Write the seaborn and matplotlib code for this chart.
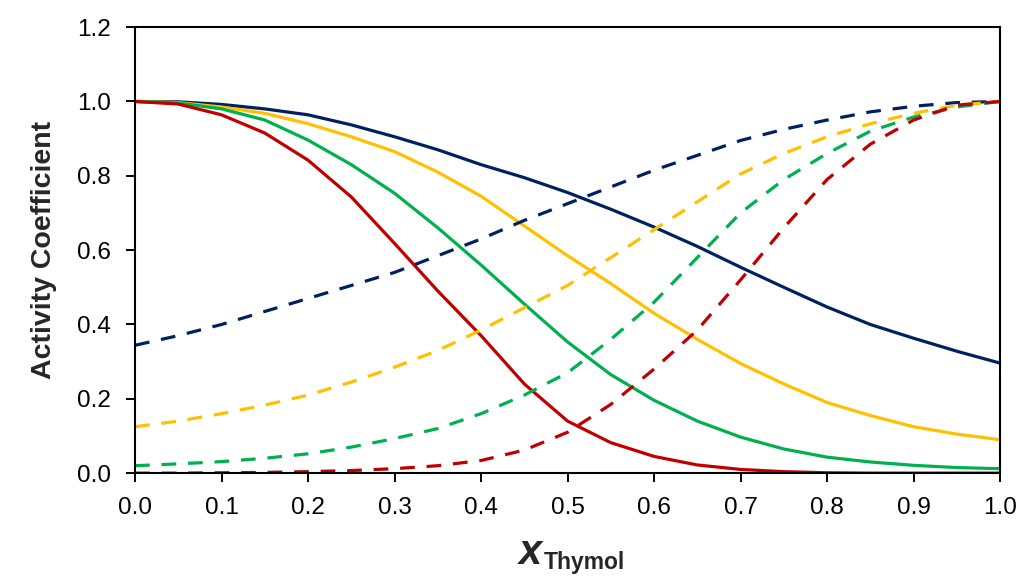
import numpy as np
import pandas as pd
import matplotlib
matplotlib.use("Agg")
import matplotlib.pyplot as plt
import seaborn as sns

x_thymol = [0.0, 0.05, 0.1, 0.15, 0.2, 0.25, 0.3, 0.35, 0.4, 0.45, 0.5,
            0.55, 0.6, 0.65, 0.7, 0.75, 0.8, 0.85, 0.9, 0.95, 1.0]

navy_solid = [1.0, 0.999, 0.992, 0.98, 0.964, 0.937, 0.905, 0.87, 0.83, 0.795, 0.755,
              0.71, 0.662, 0.61, 0.554, 0.50, 0.447, 0.40, 0.363, 0.328, 0.296]
navy_dash = [0.344, 0.37, 0.40, 0.435, 0.47, 0.505, 0.54, 0.585, 0.63, 0.68, 0.725,
             0.77, 0.815, 0.855, 0.895, 0.925, 0.95, 0.972, 0.987, 0.997, 1.0]
gold_solid = [1.0, 0.997, 0.985, 0.968, 0.94, 0.905, 0.865, 0.81, 0.745, 0.665, 0.585,
              0.51, 0.43, 0.36, 0.295, 0.24, 0.19, 0.155, 0.125, 0.105, 0.09]
gold_dash = [0.125, 0.14, 0.16, 0.183, 0.21, 0.245, 0.285, 0.33, 0.385, 0.445, 0.505,
             0.58, 0.655, 0.73, 0.805, 0.86, 0.905, 0.94, 0.968, 0.99, 1.0]
green_solid = [1.0, 0.996, 0.98, 0.95, 0.896, 0.83, 0.753, 0.66, 0.56, 0.455, 0.353,
               0.265, 0.196, 0.14, 0.097, 0.065, 0.043, 0.03, 0.021, 0.015, 0.012]
green_dash = [0.02, 0.025, 0.031, 0.04, 0.052, 0.07, 0.093, 0.12, 0.16, 0.21, 0.27,
              0.36, 0.46, 0.58, 0.70, 0.79, 0.86, 0.92, 0.958, 0.985, 1.0]
red_solid = [1.0, 0.993, 0.964, 0.915, 0.842, 0.743, 0.618, 0.49, 0.37, 0.24, 0.14,
             0.082, 0.045, 0.022, 0.01, 0.004, 0.001, 0.0, 0.0, 0.0, 0.0]
red_dash = [0.0, 0.0, 0.001, 0.002, 0.004, 0.007, 0.012, 0.02, 0.034, 0.062, 0.11,
            0.185, 0.28, 0.385, 0.52, 0.66, 0.79, 0.885, 0.95, 0.99, 1.0]

series = [
    ("navy_solid", navy_solid, "#002060", "solid"),
    ("gold_solid", gold_solid, "#FFC000", "solid"),
    ("green_solid", green_solid, "#00B050", "solid"),
    ("red_solid", red_solid, "#C00000", "solid"),
    ("navy_dash", navy_dash, "#002060", "dash"),
    ("gold_dash", gold_dash, "#FFC000", "dash"),
    ("green_dash", green_dash, "#00B050", "dash"),
    ("red_dash", red_dash, "#C00000", "dash"),
]

rows = []
for name, vals, col, sty in series:
    for xv, yv in zip(x_thymol, vals):
        rows.append({"x": xv, "y": yv, "name": name, "style": sty})
df = pd.DataFrame(rows)

sns.set_theme(style="ticks")
plt.rcParams["font.family"] = ["Liberation Sans", "DejaVu Sans"]

fig = plt.figure(figsize=(10.31, 5.77), dpi=100)
ax = fig.add_axes([0.131, 0.180, 0.839, 0.773])

palette = {name: col for name, _, col, _ in series}
sns.lineplot(data=df, x="x", y="y", hue="name", style="style", palette=palette,
             dashes={"solid": "", "dash": (4.6, 3.7)},
             legend=False, ax=ax, sort=False)
LW = 2.3
for ln in ax.lines:
    is_dash = ln.get_linestyle() not in ("-", "solid")
    ln.set_linewidth(LW)
    if is_dash:
        ln.set_linestyle((0, (4.6, 3.7)))
        ln.set_dash_capstyle("butt")
    ln.set_solid_capstyle("butt")

ax.set_xlim(0, 1.0)
ax.set_ylim(0, 1.2)
ax.set_xticks(np.arange(0, 1.01, 0.1))
ax.set_yticks(np.arange(0, 1.21, 0.2))
ax.set_xticklabels([f"{v:.1f}" for v in np.arange(0, 1.01, 0.1)])
ax.set_yticklabels([f"{v:.1f}" for v in np.arange(0, 1.21, 0.2)])
ax.tick_params(axis="both", direction="out", length=6.5, width=1.4,
               labelsize=17.5, colors="black")
ax.tick_params(axis="y", pad=11)
ax.tick_params(axis="x", pad=11)
for sp in ax.spines.values():
    sp.set_visible(True)
    sp.set_linewidth(1.5)
    sp.set_color("black")

ax.set_xlabel("")
ax.set_ylabel("Activity Coefficient", fontsize=20.5, fontweight="bold", labelpad=14)

fig.text(0.503, 0.022, "x", fontsize=30, fontweight="bold", style="italic",
         ha="left", va="baseline")
fig.text(0.527, 0.013, "Thymol", fontsize=16.5, fontweight="bold",
         ha="left", va="baseline")

fig.savefig("out.png", dpi=100)
